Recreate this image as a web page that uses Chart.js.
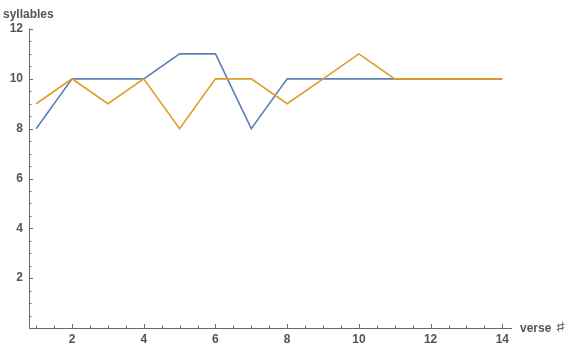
<!DOCTYPE html>
<html>
<head>
<meta charset="utf-8">
<script src="https://cdn.jsdelivr.net/npm/chart.js@4"></script>
<style>
	html, body { margin: 0; padding: 0; background: #fff; }
	#wrap { width: 580px; height: 358px; position: relative; }
</style>
</head>
<body>
<div id="wrap"><canvas id="versesChart"></canvas></div>
<script>
const verses = [1, 2, 3, 4, 5, 6, 7, 8, 9, 10, 11, 12, 13, 14];
const blueSyllables = [8, 10, 10, 10, 11, 11, 8, 10, 10, 10, 10, 10, 10, 10];
const orangeSyllables = [9, 10, 9, 10, 8, 10, 10, 9, 10, 11, 10, 10, 10, 10];
const xTickLabels = [2, 4, 6, 8, 10, 12, 14];
const yTickLabels = [2, 4, 6, 8, 10, 12];
const xAxisTitle = 'verse';
const xAxisSymbol = '\u266F';
const yAxisTitle = 'syllables';

(() => {
	'use strict'

	const axisColor = '#6a6a6a';
	const labelColor = '#555555';
	const labelFont = 'bold 12px "Liberation Sans", Arial, sans-serif';
	const symbolFont = 'bold 14px "DejaVu Sans", sans-serif';

	function minorSteps(from, to, step) {
		const out = [];
		for (let v = from; v <= to + 1e-9; v += step) {
			out.push(Math.round(v * 100) / 100);
		}
		return out;
	}

	// Mathematica-style frame: axes crossing at the origin, ticks pointing inward
	const mathAxes = {
		id: 'mathAxes',
		afterDraw(chart) {
			const { ctx, chartArea, scales } = chart;
			const x = scales.x;
			const y = scales.y;
			const x0 = chartArea.left;
			const y0 = chartArea.bottom;

			ctx.save();
			ctx.strokeStyle = axisColor;
			ctx.lineWidth = 1;

			ctx.beginPath();
			ctx.moveTo(x0, y0 + 0.5);
			ctx.lineTo(chartArea.right, y0 + 0.5);
			ctx.moveTo(x0 + 0.5, y0);
			ctx.lineTo(x0 + 0.5, y.getPixelForValue(12) - 0.5);
			ctx.stroke();

			ctx.beginPath();
			minorSteps(1, 14, 0.5).forEach((v) => {
				const px = Math.round(x.getPixelForValue(v)) + 0.5;
				const len = xTickLabels.includes(v) ? 4 : 2.5;
				ctx.moveTo(px, y0);
				ctx.lineTo(px, y0 - len);
			});
			minorSteps(0.5, 12, 0.5).forEach((v) => {
				const py = Math.round(y.getPixelForValue(v)) + 0.5;
				const len = yTickLabels.includes(v) ? 4 : 2.5;
				ctx.moveTo(x0, py);
				ctx.lineTo(x0 + len, py);
			});
			ctx.stroke();

			ctx.fillStyle = labelColor;
			ctx.font = labelFont;
			ctx.textAlign = 'center';
			ctx.textBaseline = 'top';
			xTickLabels.forEach((v) => {
				ctx.fillText(String(v), x.getPixelForValue(v), y0 + 6);
			});
			ctx.textAlign = 'right';
			ctx.textBaseline = 'middle';
			yTickLabels.forEach((v) => {
				ctx.fillText(String(v), x0 - 6, y.getPixelForValue(v));
			});

			ctx.textAlign = 'left';
			ctx.textBaseline = 'alphabetic';
			const titleX = chartArea.right + 8;
			ctx.fillText(xAxisTitle, titleX, y0 + 4);
			const titleW = ctx.measureText(xAxisTitle + ' ').width;
			// the sharp sign is narrow in DejaVu, stretch it to the reference width
			ctx.save();
			ctx.translate(titleX + titleW, y0 + 4);
			ctx.scale(1.7, 1);
			ctx.font = symbolFont;
			ctx.fillText(xAxisSymbol, 0, 0);
			ctx.restore();
			ctx.textBaseline = 'bottom';
			ctx.fillText(yAxisTitle, 3, chartArea.top - 8);
			ctx.restore();
		}
	};

	new Chart(document.getElementById('versesChart'), {
		type: 'line',
		data: {
			datasets: [
				{
					label: 'series 1',
					data: verses.map((v, i) => ({ x: v, y: blueSyllables[i] })),
					borderColor: '#5e81b5',
					borderWidth: 1.6,
					pointRadius: 0,
					tension: 0,
					order: 1
				},
				{
					label: 'series 2',
					data: verses.map((v, i) => ({ x: v, y: orangeSyllables[i] })),
					borderColor: '#e19c24',
					borderWidth: 1.6,
					pointRadius: 0,
					tension: 0,
					order: 0
				}
			]
		},
		options: {
			responsive: true,
			maintainAspectRatio: false,
			animation: false,
			layout: {
				padding: { left: 29, right: 68, top: 29, bottom: 30 }
			},
			plugins: {
				legend: { display: false },
				tooltip: { enabled: false }
			},
			scales: {
				x: { type: 'linear', min: 0.8, max: 14.27, display: false },
				y: { type: 'linear', min: 0, max: 12, display: false }
			}
		},
		plugins: [mathAxes]
	});
})()
</script>
</body>
</html>
